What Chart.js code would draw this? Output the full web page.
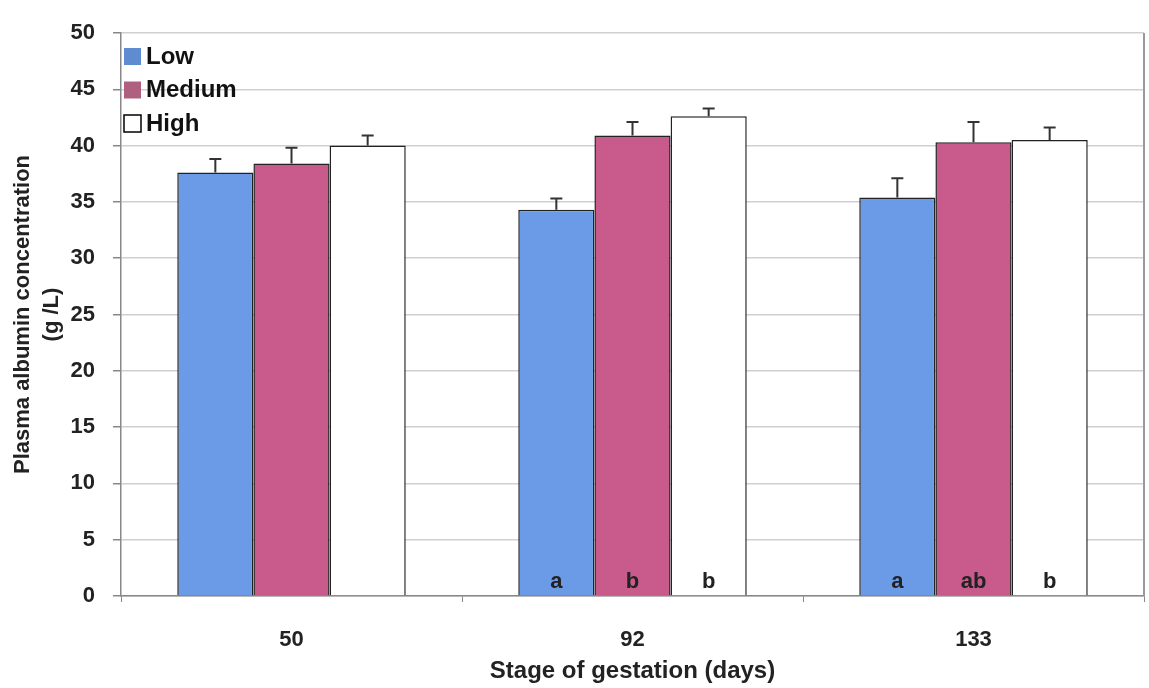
<!DOCTYPE html>
<html>
<head>
<meta charset="utf-8">
<script src="https://cdn.jsdelivr.net/npm/chart.js@4/dist/chart.umd.min.js"></script>
<style>
  body { margin: 0; background: #fff; }
</style>
</head>
<body>
<canvas id="bar-chart" width="1149" height="688"></canvas>
<script>
var etapas = ["50", "92", "133"];
var nombresSeries = ["Low", "Medium", "High"];
var valoresLow = [37.6, 34.3, 35.4];
var valoresMedium = [38.4, 40.9, 40.3];
var valoresHigh = [40.0, 42.6, 40.5];
var errorLow = [1.2, 1.0, 1.7];
var errorMedium = [1.4, 1.2, 1.8];
var errorHigh = [0.9, 0.7, 1.1];
var letrasLow = ["", "a", "a"];
var letrasMedium = ["", "b", "ab"];
var letrasHigh = ["", "b", "b"];
var colores = ["#6b9be6", "#c85b8b", "#ffffff"];
var coloresLeyenda = ["#5f8bd0", "#b0607f", "#ffffff"];

var fuente = "'Liberation Sans', Arial, sans-serif";

// barras de error, letras, borde derecho y leyenda
var extras = {
  id: "extras",
  afterDatasetsDraw: function (chart) {
    var c = chart.ctx;
    var ys = chart.scales.y;
    chart.data.datasets.forEach(function (ds, i) {
      var meta = chart.getDatasetMeta(i);
      meta.data.forEach(function (bar, j) {
        var top = ys.getPixelForValue(ds.data[j] + ds.errores[j]);
        c.save();
        c.strokeStyle = "#333";
        c.lineWidth = 2;
        c.beginPath();
        c.moveTo(bar.x, bar.y);
        c.lineTo(bar.x, top);
        c.moveTo(bar.x - 6, top);
        c.lineTo(bar.x + 6, top);
        c.stroke();
        c.fillStyle = "#222";
        c.font = "bold 22px " + fuente;
        c.textAlign = "center";
        c.textBaseline = "middle";
        c.fillText(ds.letras[j], bar.x, ys.getPixelForValue(0) - 14);
        c.restore();
      });
    });
    var a = chart.chartArea;
    c.save();
    c.strokeStyle = "#999";
    c.lineWidth = 2;
    c.beginPath();
    c.moveTo(a.right, a.top);
    c.lineTo(a.right, a.bottom);
    c.stroke();
    c.font = "bold 24px " + fuente;
    c.textBaseline = "middle";
    chart.data.datasets.forEach(function (ds, i) {
      var y = a.top + 23 + i * 33.5;
      c.fillStyle = coloresLeyenda[i];
      c.fillRect(a.left + 3, y - 8, 17, 17);
      if (i == 2) {
        c.strokeStyle = "#000";
        c.lineWidth = 1.5;
        c.strokeRect(a.left + 3, y - 8, 17, 17);
      }
      c.fillStyle = "#111";
      c.fillText(ds.label, a.left + 25, y + 1);
    });
    c.restore();
  },
};

var ctx = document.getElementById("bar-chart");
var myBarChart = new Chart(ctx, {
  type: "bar",
  data: {
    labels: etapas,
    datasets: [
      { label: nombresSeries[0], data: valoresLow, errores: errorLow, letras: letrasLow, backgroundColor: colores[0] },
      { label: nombresSeries[1], data: valoresMedium, errores: errorMedium, letras: letrasMedium, backgroundColor: colores[1] },
      { label: nombresSeries[2], data: valoresHigh, errores: errorHigh, letras: letrasHigh, backgroundColor: colores[2] },
    ],
  },
  options: {
    responsive: false,
    animation: false,
    datasets: { bar: { borderWidth: 1.5, borderColor: "#222", categoryPercentage: 0.67, barPercentage: 1.0 } },
    layout: { padding: { top: 33, right: 5, left: 9, bottom: 2 } },
    plugins: {
      legend: { display: false },
      tooltip: { enabled: false },
    },
    scales: {
      y: {
        min: 0,
        max: 50,
        afterFit: function (s) { s.width = 112; },
        ticks: { stepSize: 5, color: "#222", font: { family: fuente, size: 22, weight: "bold" }, padding: 18 },
        grid: { color: "#d0d0d0", lineWidth: 1.5, tickLength: 8, tickColor: "#888" },
        border: { color: "#888", width: 1.5 },
        title: {
          display: true,
          text: ["Plasma albumin concentration", "(g /L)"],
          color: "#222",
          font: { family: fuente, size: 22, weight: "bold", lineHeight: 1.3 },
          padding: { top: 0, bottom: 4 },
        },
      },
      x: {
        afterFit: function (s) { s.height = 90; },
        ticks: { color: "#222", font: { family: fuente, size: 22, weight: "bold" }, padding: 25 },
        grid: { drawOnChartArea: false, tickLength: 6, tickColor: "#888", offset: true },
        border: { color: "#888", width: 1.5 },
        title: {
          display: true,
          text: "Stage of gestation (days)",
          color: "#222",
          font: { family: fuente, size: 24, weight: "bold" },
          padding: { top: 4, bottom: 0 },
        },
      },
    },
  },
  plugins: [extras],
});
</script>
</body>
</html>
